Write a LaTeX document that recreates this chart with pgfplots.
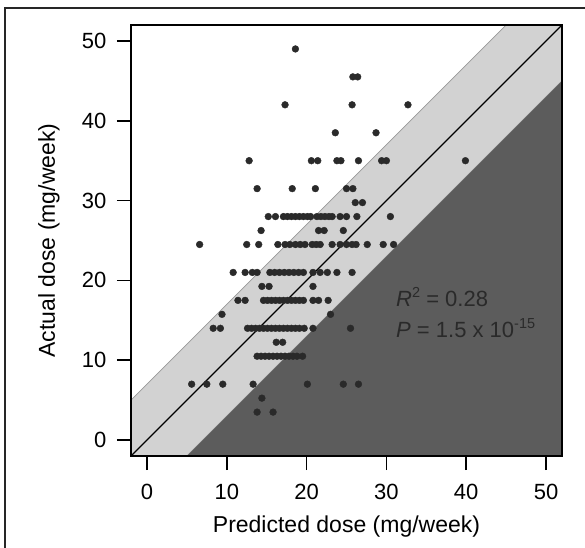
\documentclass[border=0pt]{standalone}
\usepackage{fontspec}
\setmainfont{Liberation Sans}
\usepackage{pgfplots}
\pgfplotsset{compat=1.18}
\definecolor{band}{HTML}{D2D2D2}
\definecolor{darkzone}{HTML}{5C5C5C}
\definecolor{dots}{HTML}{2A2A2A}
\pgfplotstableread{
x y
18.6 49
25.8 45.5
26.4 45.5
17.3 42
25.7 42
32.7 42
23.6 38.5
28.7 38.5
12.8 35
20.6 35
21.4 35
23.8 35
24.3 35
26.5 35
29.4 35
30.0 35
39.9 35
13.8 31.5
18.2 31.5
21.1 31.5
25.0 31.5
25.8 31.5
26.1 29.75
27.0 29.75
15.2 28
16.1 28
17.1 28
17.6 28
18.1 28
18.6 28
19.1 28
19.6 28
20.1 28
20.5 28
21.3 28
21.8 28
22.3 28
22.8 28
23.2 28
24.2 28
25.0 28
26.3 28
30.5 28
14.3 26.25
21.5 26.25
22.2 26.25
24.6 26.25
6.6 24.5
12.5 24.5
14.0 24.5
16.4 24.5
17.3 24.5
17.9 24.5
18.6 24.5
19.2 24.5
19.8 24.5
20.7 24.5
21.2 24.5
21.7 24.5
23.2 24.5
24.2 24.5
25.0 24.5
25.7 24.5
26.2 24.5
27.6 24.5
29.6 24.5
30.9 24.5
10.8 21
12.3 21
13.2 21
13.8 21
15.4 21
16.0 21
16.6 21
17.2 21
17.8 21
18.4 21
19.0 21
19.6 21
20.8 21
21.7 21
22.6 21
23.8 21
25.7 21
14.4 19.25
15.3 19.25
20.8 19.25
11.4 17.5
12.3 17.5
14.6 17.5
15.1 17.5
15.6 17.5
16.1 17.5
16.6 17.5
17.1 17.5
17.6 17.5
18.1 17.5
18.6 17.5
19.1 17.5
19.6 17.5
20.8 17.5
21.5 17.5
22.7 17.5
9.4 15.75
23.0 15.75
8.3 14
9.2 14
12.6 14
13.1 14
13.6 14
14.1 14
14.6 14
15.1 14
15.6 14
16.1 14
16.6 14
17.1 14
17.6 14
18.1 14
18.6 14
19.1 14
19.7 14
20.8 14
25.5 14
16.2 12.25
17.0 12.25
13.8 10.5
14.3 10.5
14.8 10.5
15.3 10.5
15.8 10.5
16.3 10.5
16.8 10.5
17.3 10.5
17.8 10.5
18.3 10.5
18.8 10.5
19.5 10.5
5.6 7
7.5 7
9.5 7
13.3 7
20.1 7
24.6 7
26.5 7
14.4 5.25
13.8 3.5
15.8 3.5
}\dosedata
\begin{document}
\begin{tikzpicture}
\useasboundingbox (-131pt,-91pt) rectangle (454pt,456pt);
\begin{axis}[
  at={(0,0)}, anchor=south west,
  scale only axis, width=431pt, height=431pt,
  xmin=-2, xmax=52, ymin=-2, ymax=52,
  xtick={0,10,20,30,40,50}, ytick={0,10,20,30,40,50},
  tick pos=left, tick align=outside,
  major tick length=14pt,
  tick style={line width=1.5pt, black},
  axis line style={line width=1.3pt, black},
  tick label style={font=\fontsize{22}{22}\selectfont},
  xticklabel style={yshift=-11pt},
  yticklabel style={xshift=-7pt},
  /pgf/number format/assume math mode=true,
  axis on top,
  clip=true,
]
\addplot[fill=band, draw=gray!80, line width=0.6pt] coordinates {(-2,-2) (5,-2) (52,45) (52,52) (45,52) (-2,5)} -- cycle;
\addplot[fill=darkzone, draw=none] coordinates {(5,-2) (52,-2) (52,45)} -- cycle;
\addplot[black, line width=1.4pt] coordinates {(-2,-2) (52,52)};
\addplot[only marks, mark=*, mark size=3.4pt, color=dots, mark options={draw=none, fill=dots}] table[x=x, y=y] {\dosedata};
\node[anchor=base west, inner sep=0pt, text=dots, font=\fontsize{22}{22}\selectfont] at (axis cs:31.2,16.7) {\textit{R}\raisebox{0.42em}{\fontsize{14.5}{14.5}\selectfont 2} = 0.28};
\node[anchor=base west, inner sep=0pt, text=dots, font=\fontsize{22}{22}\selectfont] at (axis cs:31.2,12.8) {\textit{P} = 1.5 x 10\raisebox{0.42em}{\fontsize{14.5}{14.5}\selectfont -15}};
\end{axis}
\node[rotate=90, anchor=base, inner sep=0pt, font=\fontsize{23}{23}\selectfont] at (-76pt,215.5pt) {Actual dose (mg/week)};
\node[anchor=base, inner sep=0pt, font=\fontsize{23}{23}\selectfont] at (215.5pt,-76pt) {Predicted dose (mg/week)};
\draw[line width=2.5pt, black!85] (-126pt,-100pt) -- (-126pt,448pt) -- (470pt,448pt);
\end{tikzpicture}
\end{document}
